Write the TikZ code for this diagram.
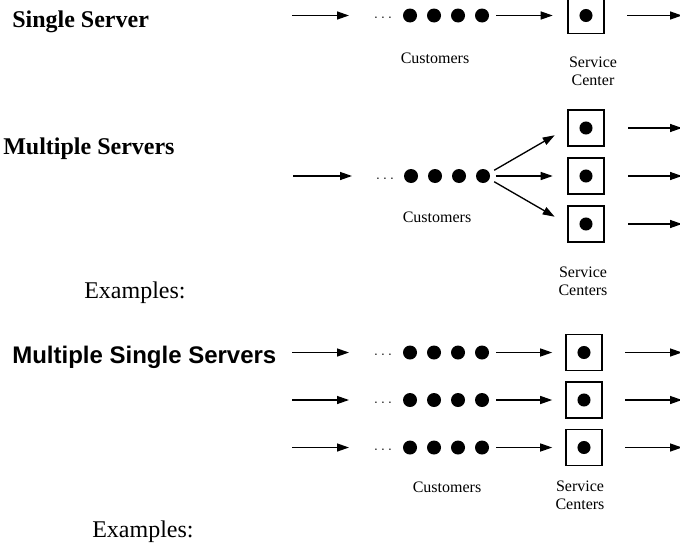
\documentclass[tikz,border=0pt]{standalone}
\usepackage{fontspec}
\setmainfont{Liberation Serif}
\setsansfont{Liberation Sans}
\usetikzlibrary{arrows.meta,positioning}

\begin{document}
\begin{tikzpicture}[x=0.75pt, y=-0.75pt,
    flow/.style={-{Triangle[length=9pt,width=6pt]}, line width=1pt},
    cust/.style={circle, fill, inner sep=0pt, minimum size=10.5pt},
    server/.style={draw, line width=1.1pt, minimum size=27pt, inner sep=0pt,
      path picture={\fill (path picture bounding box.center) circle (4.9pt);}},
    more/.style={font=\fontsize{12}{14}\selectfont, anchor=base, inner sep=0pt},
    caption/.style={font=\fontsize{12}{13.5}\selectfont, align=center, anchor=base, inner sep=0pt},
    title/.style={font=\fontsize{18}{22}\selectfont\bfseries, anchor=base west, inner sep=0pt},
    examples/.style={font=\fontsize{18}{22}\selectfont, anchor=base west, inner sep=0pt}]
  \useasboundingbox (0,0) rectangle (680,546);

  % one queue, one server
  \node[title] (single) at (12,27) {Single Server};
  \coordinate (in1s) at (292,15.5);
  \coordinate (in1e) at (349,15.5);
  \draw[flow] (in1s) -- (in1e);
  \node[more] (more1) at (383,18.5) {$\ldots$};
  \foreach \k/\x in {a/410,b/434,c/458,d/482}
    \node[cust] (c1\k) at (\x,15.5) {};
  \node[server] (s1) at (586,15.5) {};
  \draw[flow, shorten <=5.25pt, shorten >=10.9pt] (c1d) -- (s1);
  \coordinate (out1) at (682,15.5);
  \draw[flow, shorten <=16.9pt] (s1) -- (out1);
  \node[caption] (cust1) at (435,63) {Customers};
  \node[caption] (serv1) at (593,85) {Service\\Center};

  % one queue feeding three servers
  \node[title] (multi) at (3,154) {Multiple Servers};
  \coordinate (in2s) at (293,176);
  \coordinate (in2e) at (352,176);
  \draw[flow] (in2s) -- (in2e);
  \node[more] (more2) at (385,179) {$\ldots$};
  \foreach \k/\x in {a/411,b/435,c/459,d/483}
    \node[cust] (c2\k) at (\x,176) {};
  \foreach \r/\y/\a in {1/128/25,2/176/0,3/224/-25} {
    \node[server] (s2\r) at (586,\y) {};
    \coordinate (out2\r) at (682,\y);
    \draw[flow, shorten <=4pt, shorten >=10.9pt] (c2d.\a) -- (s2\r.west);
    \draw[flow, shorten <=17.6pt] (s2\r) -- (out2\r);
  }
  \node[caption] (cust2) at (437,222) {Customers};
  \node[caption] (serv2) at (583,295) {Service\\Centers};
  \node[examples] (ex1) at (84,298) {Examples:};

  % three separate queues
  \node[title, font=\fontsize{18}{22}\selectfont\sffamily\bfseries] (msingle) at (12,363) {Multiple Single Servers};
  \foreach \r/\y in {1/352.5,2/400,3/447.5} {
    \coordinate (in3\r s) at (292,\y);
    \coordinate (in3\r e) at (349,\y);
    \draw[flow] (in3\r s) -- (in3\r e);
    \node[more] (more3\r) at (383,\y+3) {$\ldots$};
    \foreach \k/\x in {a/410,b/434,c/458,d/482}
      \node[cust] (c3\r\k) at (\x,\y) {};
    \node[server] (s3\r) at (584,\y) {};
    \coordinate (out3\r) at (682,\y);
    \draw[flow, shorten <=5.25pt, shorten >=9.8pt] (c3\r d) -- (s3\r);
    \draw[flow, shorten <=16.9pt] (s3\r) -- (out3\r);
  }
  \node[caption] (cust3) at (447,492) {Customers};
  \node[caption] (serv3) at (580,509) {Service\\Centers};
  \node[examples] (ex2) at (92,537) {Examples:};
\end{tikzpicture}
\end{document}
